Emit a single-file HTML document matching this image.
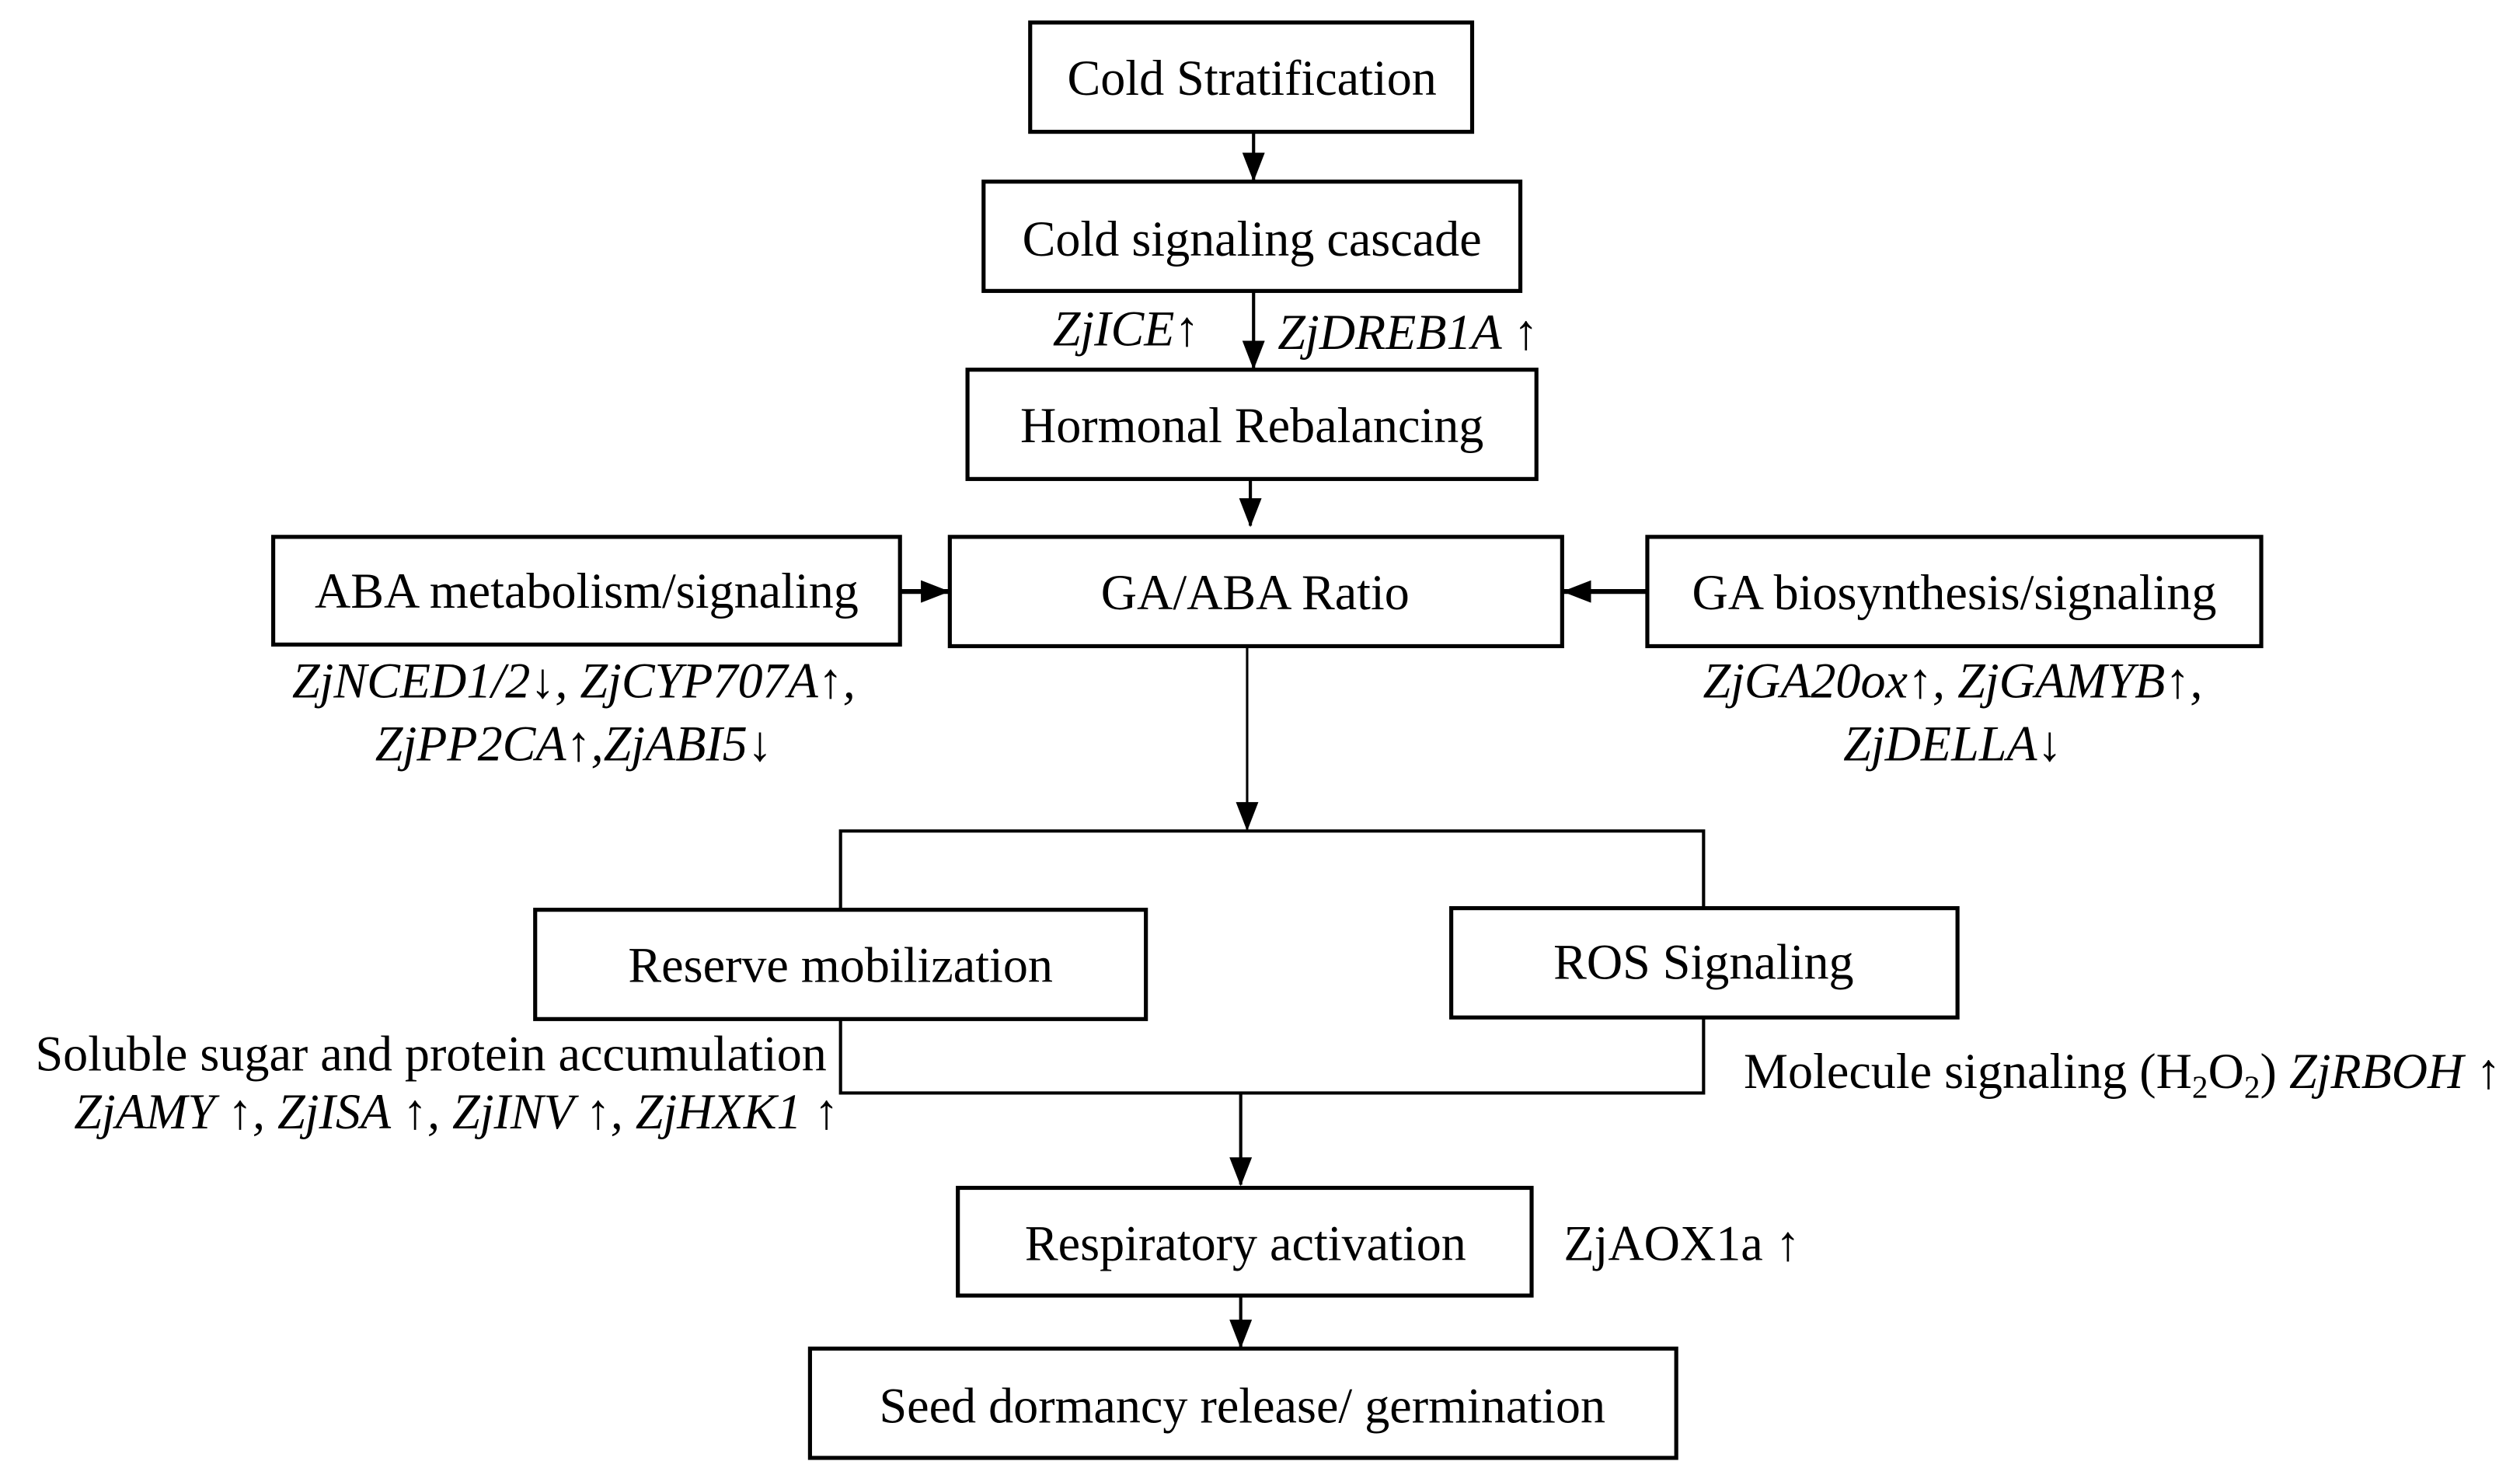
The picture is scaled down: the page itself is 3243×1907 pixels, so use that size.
<!DOCTYPE html>
<html><head><meta charset="utf-8"><style>
html,body{margin:0;padding:0;background:#fff;}
svg{display:block;}
text{font-family:"Liberation Serif",serif;fill:#000;}
</style></head><body>
<svg width="3243" height="1907" viewBox="0 0 1568 922" preserveAspectRatio="none" xmlns="http://www.w3.org/2000/svg">
<defs><marker id="a" markerWidth="18" markerHeight="14" refX="17" refY="7" orient="auto" markerUnits="userSpaceOnUse"><path d="M0,0 L18,7 L0,14 z" fill="#000"/></marker></defs>
<g fill="none" stroke="#000" stroke-width="2.5">
<rect x="641" y="14" width="275" height="68"/>
<rect x="612" y="113" width="334" height="68"/>
<rect x="602" y="230" width="354" height="68"/>
<rect x="170" y="334" width="390" height="67"/>
<rect x="591" y="334" width="381" height="68"/>
<rect x="1025" y="334" width="382" height="68"/>
<rect x="333" y="566" width="380" height="68"/>
<rect x="903" y="565" width="315" height="68"/>
<rect x="596" y="739" width="357" height="67"/>
<rect x="504" y="839" width="539" height="68"/>
</g>
<g fill="none" stroke="#000" stroke-width="2">
<line x1="780" y1="82" x2="780" y2="112" marker-end="url(#a)"/>
<line x1="780" y1="181" x2="780" y2="229" marker-end="url(#a)"/>
<line x1="778" y1="298" x2="778" y2="327" marker-end="url(#a)"/>
<line x1="560" y1="368" x2="590" y2="368" stroke-width="3" marker-end="url(#a)"/>
<line x1="1025" y1="368" x2="973" y2="368" stroke-width="3" marker-end="url(#a)"/>
<line x1="776" y1="402" x2="776" y2="516" stroke-width="1.5" marker-end="url(#a)"/>
<polyline points="523,566 523,517 1060,517 1060,565" />
<polyline points="523,634 523,680 1060,680 1060,633" />
<line x1="772" y1="680" x2="772" y2="737" marker-end="url(#a)"/>
<line x1="772" y1="806" x2="772" y2="838" marker-end="url(#a)"/>
</g>
<g font-size="31" text-anchor="middle">
<text x="779" y="59">Cold Stratification</text>
<text x="779" y="159">Cold signaling cascade</text>
<text x="779" y="275">Hormonal Rebalancing</text>
<text x="365" y="378">ABA metabolism/signaling</text>
<text x="781" y="379">GA/ABA Ratio</text>
<text x="1216" y="379">GA biosynthesis/signaling</text>
<text x="523" y="611">Reserve mobilization</text>
<text x="1060" y="609">ROS Signaling</text>
<text x="775" y="784">Respiratory activation</text>
<text x="773" y="885">Seed dormancy release/ germination</text>
</g>
<g font-size="31">
<text x="655" y="215" font-style="italic">ZjICE<tspan font-style="normal">↑</tspan></text>
<text x="795" y="217" font-style="italic">ZjDREB1A <tspan font-style="normal">↑</tspan></text>
<text x="357" y="434" text-anchor="middle" font-style="italic">ZjNCED1/2<tspan font-style="normal">↓</tspan>, ZjCYP707A<tspan font-style="normal">↑</tspan>,</text>
<text x="357" y="473" text-anchor="middle" font-style="italic">ZjPP2CA<tspan font-style="normal">↑</tspan>,ZjABI5<tspan font-style="normal">↓</tspan></text>
<text x="1215" y="434" text-anchor="middle" font-style="italic">ZjGA20ox<tspan font-style="normal">↑</tspan>, ZjGAMYB<tspan font-style="normal">↑</tspan>,</text>
<text x="1215" y="473" text-anchor="middle" font-style="italic">ZjDELLA<tspan font-style="normal">↓</tspan></text>
<text x="22" y="666">Soluble sugar and protein accumulation</text>
<text x="522" y="702" text-anchor="end" font-style="italic">ZjAMY <tspan font-style="normal">↑</tspan>, ZjISA <tspan font-style="normal">↑</tspan>, ZjINV <tspan font-style="normal">↑</tspan>, ZjHXK1 <tspan font-style="normal">↑</tspan></text>
<text x="1085" y="677">Molecule signaling (H<tspan font-size="20" dy="6">2</tspan><tspan dy="-6">O</tspan><tspan font-size="20" dy="6">2</tspan><tspan dy="-6">) </tspan><tspan font-style="italic">ZjRBOH </tspan>↑</text>
<text x="973" y="784">ZjAOX1a ↑</text>
</g>
</svg>
</body></html>
